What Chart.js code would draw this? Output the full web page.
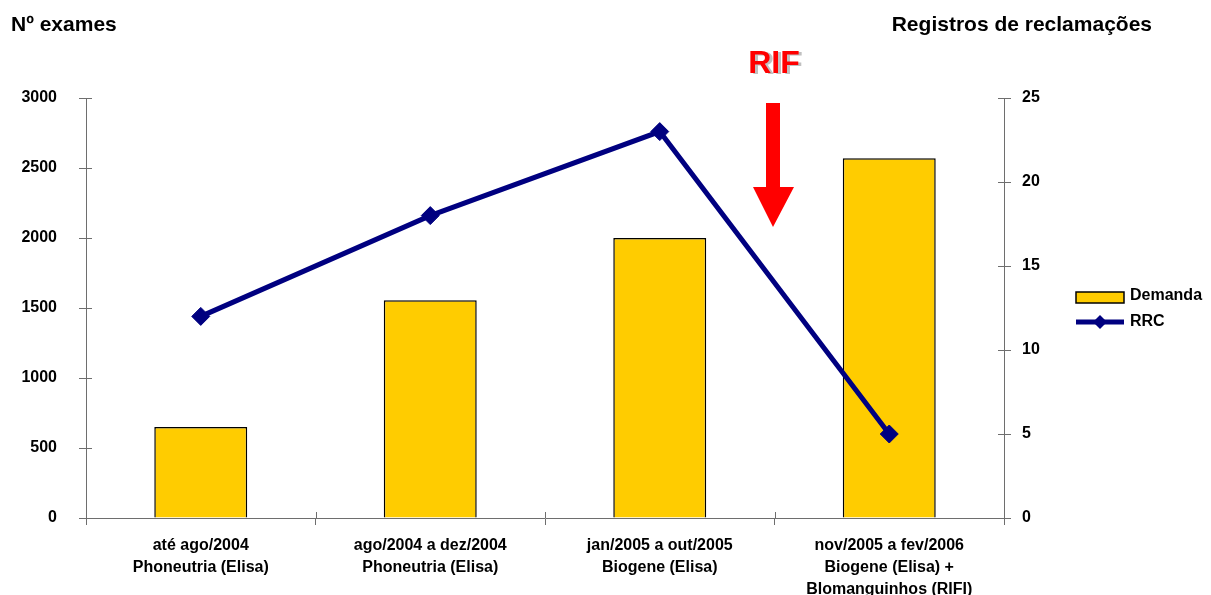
<!DOCTYPE html>
<html>
<head>
<meta charset="utf-8">
<script src="https://cdn.jsdelivr.net/npm/chart.js@4/dist/chart.umd.min.js"></script>
<style>
  html, body { margin: 0; padding: 0; background: #fff; }
  #wrap { width: 1211px; height: 595px; position: relative; }
</style>
</head>
<body>
<div id="wrap"><canvas id="c" width="1211" height="595"></canvas></div>
<script>
const categories = [
  ["até ago/2004", "Phoneutria (Elisa)"],
  ["ago/2004 a dez/2004", "Phoneutria (Elisa)"],
  ["jan/2005 a out/2005", "Biogene (Elisa)"],
  ["nov/2005 a fev/2006", "Biogene (Elisa) +", "Blomanguinhos (RIFI)"]
];
const demanda = [650, 1555, 2000, 2570];
const rrc = [12, 18, 23, 5];
const leftTicks = [0, 500, 1000, 1500, 2000, 2500, 3000];
const rightTicks = [0, 5, 10, 15, 20, 25];
const leftTitle = "Nº exames";
const rightTitle = "Registros de reclamações";
const seriesNames = ["Demanda", "RRC"];
const markerText = "RIF";

const FONT = "'Liberation Sans', Arial, sans-serif";
const AXIS = "#6e6e6e";
const BAR = "#FFCC00";
const NAVY = "#000080";

const decor = {
  id: 'decor',
  afterDraw(chart) {
    const ctx = chart.ctx;
    const a = chart.chartArea;
    const x = chart.scales.x, yl = chart.scales.y, yr = chart.scales.y1;
    ctx.save();
    // inward halves of crossing tick marks
    ctx.strokeStyle = AXIS; ctx.lineWidth = 1;
    ctx.beginPath();
    yl.ticks.forEach(t => { const p = Math.round(yl.getPixelForValue(t.value)) + 0.5; ctx.moveTo(a.left, p); ctx.lineTo(a.left + 6, p); });
    yr.ticks.forEach(t => { const p = Math.round(yr.getPixelForValue(t.value)) + 0.5; ctx.moveTo(a.right - 6, p); ctx.lineTo(a.right, p); });
    for (let i = 0; i <= categories.length; i++) {
      const p = Math.round(x.getPixelForValue(i - 0.5)) + 0.5;
      ctx.moveTo(p, a.bottom - 6); ctx.lineTo(p, a.bottom);
    }
    ctx.stroke();

    // axis titles
    ctx.fillStyle = "#000";
    ctx.font = "bold 21px " + FONT;
    ctx.textBaseline = "alphabetic";
    ctx.textAlign = "left";
    ctx.fillText(leftTitle, 11, 31);
    ctx.textAlign = "right";
    ctx.fillText(rightTitle, 1152, 31);

    // RIF marker with arrow, between 3rd and 4th categories
    const cx = x.getPixelForValue(2.5) - 1.5;
    ctx.font = "bold 32px " + FONT;
    ctx.textAlign = "center";
    ctx.fillStyle = "#C0C0C0";
    ctx.fillText(markerText, cx + 4, 74);
    ctx.fillStyle = "#FF0000";
    ctx.fillText(markerText, cx + 1, 73);
    ctx.beginPath();
    ctx.moveTo(cx - 7, 103);
    ctx.lineTo(cx + 7, 103);
    ctx.lineTo(cx + 7, 187);
    ctx.lineTo(cx + 21, 187);
    ctx.lineTo(cx, 227);
    ctx.lineTo(cx - 20, 187);
    ctx.lineTo(cx - 7, 187);
    ctx.closePath();
    ctx.fill();

    // legend
    ctx.fillStyle = BAR;
    ctx.fillRect(1076, 292, 48, 11);
    ctx.strokeStyle = "#000"; ctx.lineWidth = 1.5;
    ctx.strokeRect(1076, 292, 48, 11);
    ctx.strokeStyle = NAVY; ctx.lineWidth = 5;
    ctx.beginPath(); ctx.moveTo(1076, 322); ctx.lineTo(1124, 322); ctx.stroke();
    ctx.fillStyle = NAVY;
    ctx.beginPath();
    ctx.moveTo(1100, 315); ctx.lineTo(1107, 322); ctx.lineTo(1100, 329); ctx.lineTo(1093, 322);
    ctx.closePath(); ctx.fill();
    ctx.fillStyle = "#000";
    ctx.font = "bold 16px " + FONT;
    ctx.textAlign = "left";
    ctx.textBaseline = "middle";
    ctx.fillText(seriesNames[0], 1130, 296);
    ctx.fillText(seriesNames[1], 1130, 322);
    ctx.restore();
  }
};

new Chart(document.getElementById('c'), {
  type: 'bar',
  data: {
    labels: categories,
    datasets: [
      {
        type: 'bar',
        label: seriesNames[0],
        data: demanda,
        backgroundColor: BAR,
        borderColor: "#000",
        borderWidth: 1.5,
        barPercentage: 0.405,
        categoryPercentage: 1,
        yAxisID: 'y',
        order: 2
      },
      {
        type: 'line',
        label: seriesNames[1],
        data: rrc,
        borderColor: NAVY,
        backgroundColor: NAVY,
        borderWidth: 5,
        tension: 0,
        pointStyle: 'rectRot',
        pointRadius: 9,
        pointBorderWidth: 1,
        pointBackgroundColor: NAVY,
        pointBorderColor: NAVY,
        yAxisID: 'y1',
        order: 1
      }
    ]
  },
  options: {
    responsive: false,
    animation: false,
    layout: { padding: { top: 98, left: 0, right: 0, bottom: 0 } },
    plugins: { legend: { display: false }, tooltip: { enabled: false } },
    scales: {
      x: {
        offset: true,
        grid: { display: true, drawOnChartArea: false, color: AXIS, tickLength: 7, offset: true },
        border: { display: true, color: AXIS, width: 1 },
        ticks: { color: "#000", font: { family: FONT, size: 16, weight: 'bold', lineHeight: 1.4 }, padding: 9, maxRotation: 0, autoSkip: false },
        afterFit(s) { s.height = 77; }
      },
      y: {
        position: 'left',
        min: leftTicks[0], max: leftTicks[leftTicks.length - 1],
        afterBuildTicks(s) { s.ticks = leftTicks.map(v => ({ value: v })); },
        grid: { drawOnChartArea: false, color: AXIS, tickLength: 7 },
        border: { display: true, color: AXIS, width: 1 },
        ticks: { color: "#000", font: { family: FONT, size: 16, weight: 'bold' }, padding: 22, callback: v => String(v) },
        afterFit(s) { s.width = 86; }
      },
      y1: {
        position: 'right',
        min: rightTicks[0], max: rightTicks[rightTicks.length - 1],
        afterBuildTicks(s) { s.ticks = rightTicks.map(v => ({ value: v })); },
        grid: { drawOnChartArea: false, color: AXIS, tickLength: 7 },
        border: { display: true, color: AXIS, width: 1 },
        ticks: { color: "#000", font: { family: FONT, size: 16, weight: 'bold' }, padding: 11, callback: v => String(v) },
        afterFit(s) { s.width = 207; }
      }
    }
  },
  plugins: [decor]
});
</script>
</body>
</html>
